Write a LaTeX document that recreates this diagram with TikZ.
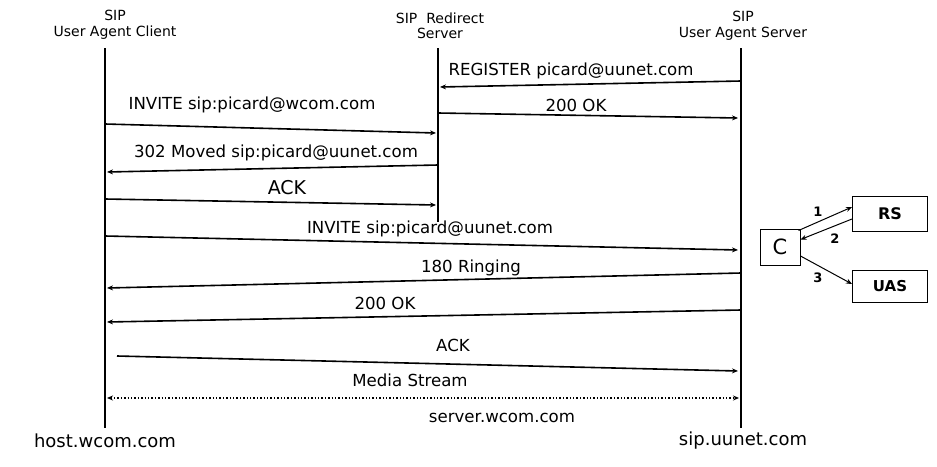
\documentclass[tikz,border=0pt]{standalone}
\usepackage{fontspec}
\setmainfont{DejaVu Sans}
\usetikzlibrary{arrows.meta}
\begin{document}
\begin{tikzpicture}[x=1pt,y=-1pt,
  life/.style={line width=1.8pt},
  msg/.style={line width=1.6pt,-{Stealth[length=6pt,width=5pt]}},
  hdr/.style={font=\fontsize{14}{15.5}\selectfont,align=center,inner sep=0pt},
  lbl/.style={font=\fontsize{16.6}{18}\selectfont,inner sep=0pt},
  host/.style={font=\fontsize{18}{20}\selectfont,inner sep=0pt},
  box/.style={draw,line width=1pt,fill=white,inner sep=0pt},
  num/.style={font=\bfseries\fontsize{13}{14}\selectfont,inner sep=0pt},
  small/.style={line width=1pt,-{Stealth[length=6pt,width=5pt]}}]
\useasboundingbox[fill=white] (0,0) rectangle (937,466);
% headers
\node[hdr] (hUAC) at (115,25) {SIP\\User Agent Client};
\node[hdr] (hRS) at (440,26) {SIP~~Redirect\\Server};
\node[hdr] (hUAS) at (743,26) {SIP\\User Agent Server};
% lifelines
\coordinate (a0) at (105,48); \coordinate (a1) at (105,428);
\coordinate (r0) at (438,48); \coordinate (r1) at (438,222);
\coordinate (s0) at (741,48); \coordinate (s1) at (741,428);
\draw[life] (a0) -- (a1);
\draw[life] (r0) -- (r1);
\draw[life] (s0) -- (s1);
% messages
\coordinate (m1s) at (741,81); \coordinate (m1e) at (440,87);
\draw[msg] (m1s) -- (m1e);
\node[lbl] (l1) at (571,71) {REGISTER picard@uunet.com};
\coordinate (m2s) at (438,113); \coordinate (m2e) at (738,118);
\draw[msg] (m2s) -- (m2e);
\node[lbl] (l2) at (576,105) {200 OK};
\coordinate (m3s) at (105,124); \coordinate (m3e) at (436,133);
\draw[msg] (m3s) -- (m3e);
\node[lbl] (l3) at (252,105) {INVITE sip:picard@wcom.com};
\coordinate (m4s) at (438,165); \coordinate (m4e) at (107,172);
\draw[msg] (m4s) -- (m4e);
\node[lbl] (l4) at (276,153) {302 Moved sip:picard@uunet.com};
\coordinate (m5s) at (105,199); \coordinate (m5e) at (436,205);
\draw[msg] (m5s) -- (m5e);
\node[lbl,font=\fontsize{19}{20}\selectfont] (l5) at (287,188) {ACK};
\coordinate (m6s) at (105,236); \coordinate (m6e) at (738,250);
\draw[msg] (m6s) -- (m6e);
\node[lbl] (l6) at (430,229) {INVITE sip:picard@uunet.com};
\coordinate (m7s) at (741,273); \coordinate (m7e) at (107,288);
\draw[msg] (m7s) -- (m7e);
\node[lbl] (l7) at (471,268) {180 Ringing};
\coordinate (m8s) at (741,310); \coordinate (m8e) at (107,322);
\draw[msg] (m8s) -- (m8e);
\node[lbl] (l8) at (385,303) {200 OK};
\coordinate (m9s) at (117,356); \coordinate (m9e) at (738,371);
\draw[msg] (m9s) -- (m9e);
\node[lbl] (l9) at (453,345) {ACK};
\coordinate (mss) at (107,398); \coordinate (mse) at (739,398);
\draw[line width=1.4pt,dotted,{Stealth[length=6pt,width=5pt]}-{Stealth[length=6pt,width=5pt]}] (mss) -- (mse);
\node[lbl] (l10) at (410,380) {Media Stream};
\node[lbl] (l11) at (502,418) {server.wcom.com};
\node[host] (hostA) at (105,441) {host.wcom.com};
\node[host] (hostB) at (743,441) {sip.uunet.com};
% C / RS / UAS
\node[box,minimum width=40pt,minimum height=36pt,font=\fontsize{21}{22}\selectfont] (C) at (780,247) {C};
\node[box,minimum width=75pt,minimum height=35pt,font=\bfseries\fontsize{16}{18}\selectfont] (RS) at (890,214) {RS};
\node[box,minimum width=75pt,minimum height=32pt,font=\bfseries\fontsize{15}{18}\selectfont] (UAS) at (890,286) {UAS};
\coordinate (c1) at ([xshift=-2pt,yshift=-2pt]C.north east);
\draw[small] (c1) -- (RS.west |- 0,207);
\draw[small] (RS.west |- 0,219) -- ([yshift=-11pt]C.north east);
\draw[small] ([yshift=-9pt]C.east) -- (UAS.west |- 0,284);
\node[num] (n1) at (818,212) {1};
\node[num] (n2) at (835,239) {2};
\node[num] (n3) at (818,278) {3};
\end{tikzpicture}
\end{document}
